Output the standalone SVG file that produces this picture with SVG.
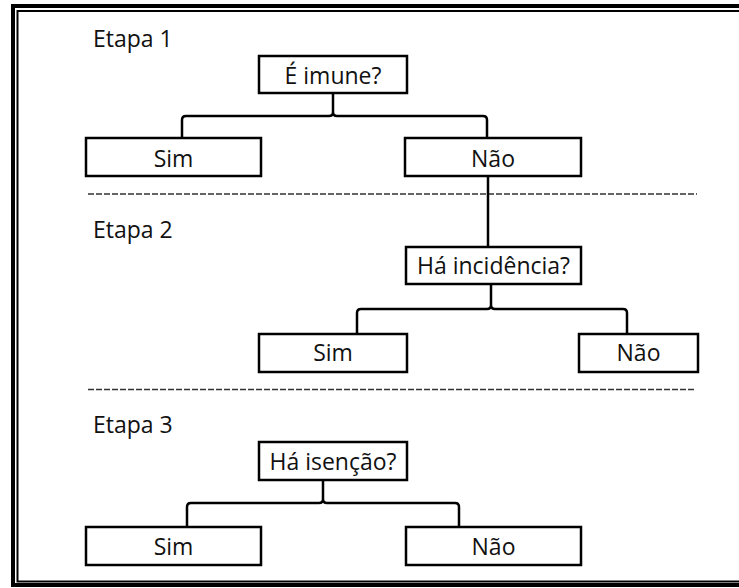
<svg xmlns="http://www.w3.org/2000/svg" width="739" height="588" viewBox="0 0 739 588">
<style>
.box{fill:#fff;stroke:#000;stroke-width:2.5}
.t{font-family:"Open Sans","Liberation Sans",sans-serif;font-size:23px;fill:#111;text-anchor:middle}
.lbl{font-family:"Open Sans","Liberation Sans",sans-serif;font-size:23px;fill:#111}
.c{fill:none;stroke:#000;stroke-width:2.5}
.d{stroke:#333;stroke-width:1.5;stroke-dasharray:6 2}
</style>
<rect width="739" height="588" fill="#fff"/>
<g id="frame" fill="none" stroke="#000">
<rect x="13" y="6" width="760" height="579" stroke-width="4"/>
<rect x="17.5" y="11" width="750" height="570.5" stroke-width="2"/>
</g>
<g id="separators">
<line class="d" x1="88" y1="194" x2="697" y2="194"/>
<line class="d" x1="88" y1="389.5" x2="696" y2="389.5"/>
</g>
<g id="stage-labels">
<text class="lbl" x="93" y="47">Etapa 1</text>
<text class="lbl" x="93" y="238">Etapa 2</text>
<text class="lbl" x="93" y="433">Etapa 3</text>
</g>
<g id="connectors">
<path class="c" d="M182,138 L182,120 Q182,116 186,116 L329,116 Q333,116 333,112 L333,93 M333,112 Q333,116 337,116 L483,116 Q487,116 487,120 L487,138"/>
<path class="c" d="M488,176 L488,247"/>
<path class="c" d="M357,334 L357,313 Q357,309 361,309 L487,309 Q491,309 491,305 L491,284 M491,305 Q491,309 495,309 L623,309 Q627,309 627,313 L627,334"/>
<path class="c" d="M187,527 L187,507 Q187,503 191,503 L319,503 Q323,503 323,499 L323,480 M323,499 Q323,503 327,503 L455,503 Q459,503 459,507 L459,527"/>
</g>
<g id="q1"><rect class="box" x="259" y="56" width="148" height="37"/><text class="t" x="333" y="84">É imune?</text></g>
<g id="sim1"><rect class="box" x="86" y="138" width="175" height="38"/><text class="t" x="173.5" y="167">Sim</text></g>
<g id="nao1"><rect class="box" x="405" y="138" width="176" height="38"/><text class="t" x="493" y="167">Não</text></g>
<g id="q2"><rect class="box" x="406" y="247" width="175" height="37"/><text class="t" x="493.5" y="274">Há incidência?</text></g>
<g id="sim2"><rect class="box" x="259" y="334" width="148" height="38"/><text class="t" x="333" y="361">Sim</text></g>
<g id="nao2"><rect class="box" x="579" y="334" width="119" height="38"/><text class="t" x="638.5" y="361">Não</text></g>
<g id="q3"><rect class="box" x="259" y="442" width="148" height="38"/><text class="t" x="333" y="470">Há isenção?</text></g>
<g id="sim3"><rect class="box" x="86" y="527" width="175" height="38"/><text class="t" x="173.5" y="555">Sim</text></g>
<g id="nao3"><rect class="box" x="406" y="527" width="175" height="38"/><text class="t" x="493.5" y="555">Não</text></g>
</svg>
